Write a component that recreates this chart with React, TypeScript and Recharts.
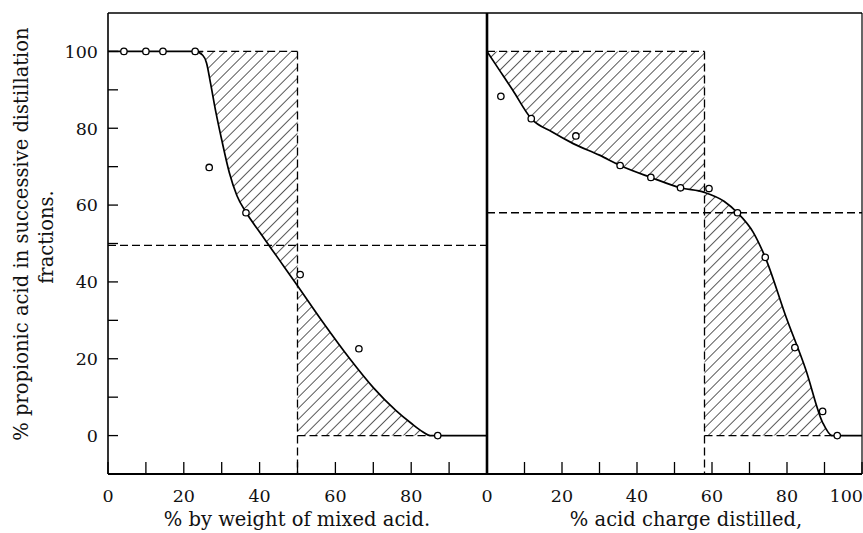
import React from 'react';
import { ComposedChart, Line, Area, Scatter, XAxis, YAxis, ReferenceLine } from 'recharts';

// left panel: composition of the mixed acid
const mixX = [0, 10, 20, 23, 25, 26, 27, 28.5, 30, 32, 34, 36.5, 40, 45, 50, 56.7, 63.8, 70, 76, 80, 83, 85, 90, 100];
const mixCurve = [100, 100, 100, 100, 99, 97, 92, 84, 77, 68.5, 62.5, 58, 53, 46, 39, 29.5, 20, 12.5, 6.5, 3.2, 1, 0, 0, 0];
const mixPtX = [4.2, 10, 14.5, 23, 26.7, 36.4, 50.7, 66.2, 87];
const mixPtY = [100, 100, 100, 100, 69.8, 58, 41.9, 22.6, 0];
const mixHatchTop = [23, 50];
const mixHatchBottom = [50, 85];
const mixCut = 50;
const mixLevel = 49.5;

// right panel: acid charge distilled
const distX = [0, 3.4, 6.8, 11.8, 17.4, 23, 30, 35.5, 43.7, 51.6, 58, 63.2, 66.8, 71, 74.2, 79.7, 85, 89.5, 92, 95, 100];
const distCurve = [100, 95, 90, 82.5, 79, 76, 73, 70.3, 67.2, 64.5, 63.3, 61, 58, 52.9, 46.4, 31, 17.2, 3.4, 0, 0, 0];
const distPtX = [3.7, 11.8, 23.7, 35.5, 43.7, 51.6, 59.2, 66.8, 74.2, 82.1, 89.5, 93.4];
const distPtY = [88.3, 82.5, 78, 70.3, 67.2, 64.5, 64.3, 58, 46.4, 22.9, 6.3, 0];
const distHatchTop = [0, 58];
const distHatchBottom = [58, 92];
const distCut = 58;
const distLevel = 58;

const tickVals = [0, 10, 20, 30, 40, 50, 60, 70, 80, 90, 100];
const mixXLabels = [0, 20, 40, 60, 80];
const distXLabels = [0, 20, 40, 60, 80, 100];
const yLabels = [0, 20, 40, 60, 80, 100];

const FONT = '"DejaVu Serif", serif';
const dash = '8 4';

function buildRows(xs: number[], ys: number[], top: number[], bot: number[]) {
  return xs.map((x, i) => ({
    x,
    curve: ys[i],
    top: x >= top[0] && x <= top[1] ? [ys[i], 100] : undefined,
    bot: x >= bot[0] && x <= bot[1] ? [0, ys[i]] : undefined,
  }));
}

const mixRows = buildRows(mixX, mixCurve, mixHatchTop, mixHatchBottom);
const distRows = buildRows(distX, distCurve, distHatchTop, distHatchBottom);
const mixPts = mixPtX.map((x, i) => ({ x, y: mixPtY[i] }));
const distPts = distPtX.map((x, i) => ({ x, y: distPtY[i] }));

const Ring = (p: any) => (
  <circle cx={p.cx} cy={p.cy} r={3.2} fill="#fff" stroke="#000" strokeWidth={1.3} />
);

// last label of the right panel sits on the frame edge, so pull it inside
const xTick = (labels: number[]) => (p: any) => {
  const v = p.payload.value;
  if (!labels.includes(v)) return <g />;
  const atEdge = v === 100;
  return (
    <text
      x={atEdge ? p.x + 1 : p.x}
      y={p.y}
      dy="0.71em"
      textAnchor={atEdge ? 'end' : 'middle'}
      fontFamily={FONT}
      fontSize={17.5}
      fill="#111"
    >
      {v}
    </text>
  );
};

const yTick = (p: any) =>
  yLabels.includes(p.payload.value) ? (
    <text x={p.x} y={p.y} dy="0.36em" textAnchor="end" fontFamily={FONT} fontSize={17.5} fill="#111">
      {p.payload.value}
    </text>
  ) : (
    <g />
  );

const Hatch = ({ id }: { id: string }) => (
  <defs>
    <pattern id={id} width={7.8} height={7.8} patternUnits="userSpaceOnUse" patternTransform="rotate(45)">
      <line x1={0} y1={0} x2={0} y2={7.8} stroke="#000" strokeWidth={1.3} />
    </pattern>
  </defs>
);

function Panel({
  rows, pts, hatchTop, hatchBottom, cut, level, labels, showY, width, margin, yWidth, yAxisStroke, id, rightBorder,
}: any) {
  return (
    <ComposedChart width={width} height={533} data={rows} margin={margin}>
      <Hatch id={id} />
      <XAxis
        dataKey="x"
        type="number"
        domain={[0, 100]}
        ticks={tickVals}
        interval={0}
        allowDataOverflow
        height={30}
        tickSize={-12}
        tickMargin={28}
        tickLine={{ stroke: '#000', strokeWidth: 1.3 }}
        axisLine={{ stroke: '#000', strokeWidth: 2 }}
        tick={xTick(labels)}
      />
      <YAxis
        type="number"
        domain={[-10, 110]}
        ticks={tickVals}
        interval={0}
        allowDataOverflow
        width={yWidth}
        tickSize={showY ? -10 : -13}
        tickMargin={20}
        tickLine={{ stroke: '#000', strokeWidth: 1.3 }}
        axisLine={{ stroke: '#000', strokeWidth: yAxisStroke }}
        tick={showY ? yTick : false}
      />
      <Area dataKey="top" type="monotone" stroke="none" fill={`url(#${id})`} fillOpacity={1} isAnimationActive={false} />
      <Area dataKey="bot" type="monotone" stroke="none" fill={`url(#${id})`} fillOpacity={1} isAnimationActive={false} />
      <ReferenceLine y={110} stroke="#000" strokeWidth={1.6} />
      {rightBorder && <ReferenceLine x={100} stroke="#000" strokeWidth={1.2} />}
      <ReferenceLine y={level} stroke="#000" strokeWidth={1.3} strokeDasharray={dash} />
      <ReferenceLine
        segment={[{ x: hatchTop[0], y: 100 }, { x: cut, y: 100 }]}
        stroke="#000"
        strokeWidth={1.3}
        strokeDasharray={dash}
      />
      <ReferenceLine
        segment={[{ x: cut, y: 100 }, { x: cut, y: -10 }]}
        stroke="#000"
        strokeWidth={1.3}
        strokeDasharray={dash}
      />
      <ReferenceLine
        segment={[{ x: cut, y: 0 }, { x: hatchBottom[1], y: 0 }]}
        stroke="#000"
        strokeWidth={1.3}
        strokeDasharray={dash}
      />
      <Line dataKey="curve" type="monotone" stroke="#000" strokeWidth={1.7} dot={false} isAnimationActive={false} />
      <Scatter data={pts} dataKey="y" shape={Ring} isAnimationActive={false} />
    </ComposedChart>
  );
}

export default function App() {
  const textStyle: React.CSSProperties = {
    position: 'absolute',
    fontFamily: FONT,
    fontSize: 19.5,
    color: '#111',
    whiteSpace: 'nowrap',
    textAlign: 'center',
    lineHeight: '20px',
  };
  return (
    <div style={{ position: 'absolute', left: 0, top: 0, width: 863, height: 533, background: '#fff', overflow: 'hidden' }}>
      <div style={{ position: 'absolute', left: 0, top: 0 }}>
        <Panel
          rows={mixRows}
          pts={mixPts}
          hatchTop={mixHatchTop}
          hatchBottom={mixHatchBottom}
          cut={mixCut}
          level={mixLevel}
          labels={mixXLabels}
          showY
          width={500}
          margin={{ top: 13, right: 13, bottom: 29, left: 48 }}
          yWidth={60}
          yAxisStroke={1.6}
          id="hatchL"
        />
      </div>
      <div style={{ position: 'absolute', left: 437, top: 0 }}>
        <Panel
          rows={distRows}
          pts={distPts}
          hatchTop={distHatchTop}
          hatchBottom={distHatchBottom}
          cut={distCut}
          level={distLevel}
          labels={distXLabels}
          showY={false}
          width={426}
          margin={{ top: 13, right: 1, bottom: 29, left: 0 }}
          yWidth={50}
          yAxisStroke={2.6}
          id="hatchR"
          rightBorder
        />
      </div>
      <div style={{ ...textStyle, left: 22 - 250, top: 234 - 10, width: 500, transform: 'rotate(-90deg)' }}>
        % propionic acid in successive distillation
      </div>
      <div style={{ ...textStyle, left: 47 - 100, top: 237 - 10, width: 200, transform: 'rotate(-90deg)' }}>
        fractions.
      </div>
      <div style={{ ...textStyle, left: 297 - 200, top: 510, width: 400 }}>% by weight of mixed acid.</div>
      <div style={{ ...textStyle, left: 686 - 200, top: 510, width: 400 }}>% acid charge distilled,</div>
    </div>
  );
}
